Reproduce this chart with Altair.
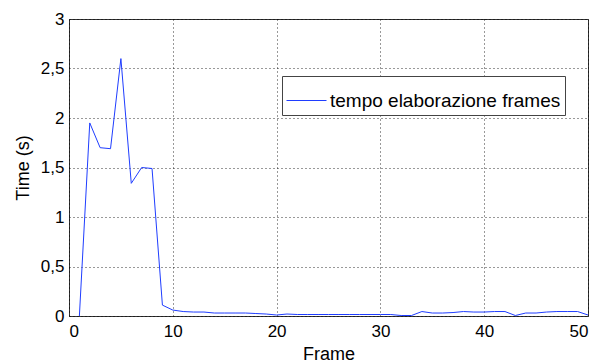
import altair as alt
import pandas as pd

frames = list(range(1, 51))
times = [0.0, 1.95, 1.70, 1.69, 2.60, 1.34, 1.50, 1.49, 0.11, 0.06,
         0.045, 0.04, 0.04, 0.03, 0.03, 0.03, 0.03, 0.025, 0.02, 0.01,
         0.02, 0.015, 0.015, 0.015, 0.015, 0.015, 0.015, 0.015, 0.015, 0.015,
         0.015, 0.005, 0.005, 0.045, 0.03, 0.03, 0.035, 0.045, 0.04, 0.04,
         0.045, 0.045, 0.005, 0.03, 0.03, 0.04, 0.045, 0.045, 0.045, 0.01]
series = ["tempo elaborazione frames"] * len(frames)

df = pd.DataFrame({"frame": frames, "time": times, "series": series})

FONT = "Liberation Sans"

chart = alt.Chart(df).mark_line(strokeWidth=1, clip=True).encode(
    x=alt.X("frame:Q", title="Frame",
            scale=alt.Scale(domain=[0, 50], nice=False),
            axis=alt.Axis(values=[0, 10, 20, 30, 40, 50], format="d")),
    y=alt.Y("time:Q", title="Time (s)",
            scale=alt.Scale(domain=[0, 3], nice=False),
            axis=alt.Axis(values=[0, 0.5, 1, 1.5, 2, 2.5, 3],
                          labelExpr="replace(format(datum.value, '~g'), '.', ',')")),
    color=alt.Color("series:N", title=None,
                    scale=alt.Scale(range=["#1f3dff"]),
                    legend=alt.Legend(orient="none", legendX=213, legendY=57,
                                      symbolType="stroke", symbolSize=1600,
                                      symbolStrokeWidth=1, labelOffset=3,
                                      labelFontSize=19, labelFont=FONT,
                                      labelColor="black",
                                      strokeColor="#444444", fillColor="white",
                                      padding=4, labelLimit=400)),
).properties(
    width=519, height=297,
    autosize=alt.AutoSizeParams(type="none"),
    padding={"left": 69, "top": 19, "right": 12, "bottom": 48},
).configure_view(
    stroke="#333333", strokeWidth=1
).configure_axis(
    grid=True, gridColor="black", gridDash=[1, 3], gridOpacity=0.8,
    domain=False, ticks=False,
    labelFont=FONT, labelFontSize=17, labelColor="black",
    titleFont=FONT, titleFontSize=18, titleFontWeight="normal", titleColor="black",
).configure_axisX(
    labelPadding=7, titlePadding=6
).configure_axisY(
    labelPadding=5, titlePadding=8
)

chart.save("out.html", embed_options={"renderer": "svg", "actions": False})
